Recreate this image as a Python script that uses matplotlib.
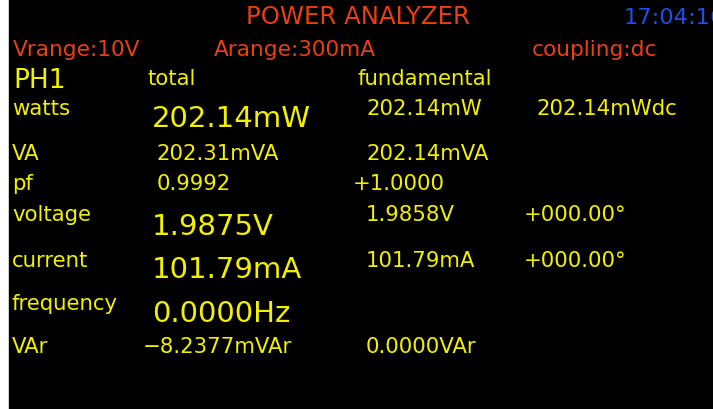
import matplotlib.pyplot as plt
from matplotlib.patches import Rectangle

# Display contents
title = "POWER ANALYZER"
clock = "17:04:16"
settings = ["Vrange:10V", "Arange:300mA", "coupling:dc"]
phase = "PH1"
col_heads = ["total", "fundamental"]

row_labels = ["watts", "VA", "pf", "voltage", "current", "frequency", "VAr"]
total_vals = ["202.14mW", "202.31mVA", "0.9992", "1.9875V", "101.79mA", "0.0000Hz", "\u22128.2377mVAr"]
total_big = [True, False, False, True, True, True, False]
fund_vals = ["202.14mW", "202.14mVA", "+1.0000", "1.9858V", "101.79mA", "", "0.0000VAr"]
extra_vals = ["202.14mWdc", "", "", "+000.00\u00b0", "+000.00\u00b0", "", ""]

# Screen layout (pixels)
row_base = [115, 160, 190, 221, 267, 310, 353]
big_base = [127, 160, 190, 235, 278, 322, 353]
total_x = [152, 157, 157, 152, 152, 152, 143]
fund_x = [366, 366, 353, 366, 366, 366, 366]
extra_x = [537, 0, 0, 524, 524, 0, 0]

YELLOW = "#f2f000"
RED = "#e84010"
BLUE = "#1c50e8"
FONT = "DejaVu Sans"
SMALL = 15.3
BIG = 21

fig = plt.figure(figsize=(7.13, 4.10), dpi=100, facecolor="white")
ax = fig.add_axes([0, 0, 1, 1])
ax.set_xlim(0, 713)
ax.set_ylim(410, 0)
ax.axis("off")
ax.add_patch(Rectangle((9, 0), 713 - 9, 410, color="black"))


def put(x, y, s, color=YELLOW, size=SMALL):
    ax.text(x, y, s, color=color, fontsize=size, family=FONT,
            ha="left", va="baseline")


# header
put(246, 24, title, RED, 17.6)
put(624, 24, clock, BLUE, 16.2)
for x, s in zip([13, 214, 532], settings):
    put(x, 56, s, RED, 15.6)

put(13, 88, phase, YELLOW, 19)
put(147, 85, col_heads[0])
put(357, 85, col_heads[1])

for i, lab in enumerate(row_labels):
    put(12, row_base[i], lab)
    if total_big[i]:
        put(total_x[i], big_base[i], total_vals[i], size=BIG)
    else:
        put(total_x[i], row_base[i], total_vals[i])
    if fund_vals[i]:
        put(fund_x[i], row_base[i], fund_vals[i])
    if extra_vals[i]:
        put(extra_x[i], row_base[i], extra_vals[i])

fig.savefig("out.png", dpi=100, facecolor=fig.get_facecolor())
